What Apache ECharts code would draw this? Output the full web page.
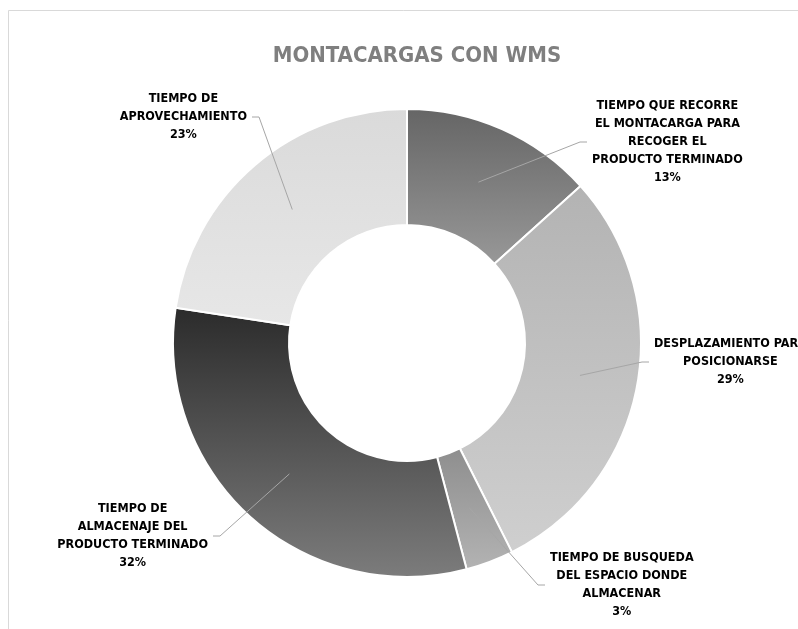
<!DOCTYPE html>
<html lang="es">
<head>
<meta charset="utf-8">
<title>MONTACARGAS CON WMS</title>
<script src="https://cdn.jsdelivr.net/npm/echarts@6/dist/echarts.min.js"></script>
</head>
<body style="margin:0;background:#fff">
<div id="container" style="width:798px;height:629px"></div>
<script type="text/javascript">
var categories = [
  'TIEMPO QUE RECORRE\nEL MONTACARGA PARA\nRECOGER EL\nPRODUCTO TERMINADO',
  'DESPLAZAMIENTO PARA\nPOSICIONARSE',
  'TIEMPO DE BUSQUEDA\nDEL ESPACIO DONDE\nALMACENAR',
  'TIEMPO DE\nALMACENAJE DEL\nPRODUCTO TERMINADO',
  'TIEMPO DE\nAPROVECHAMIENTO'
];
var values = [13.3, 29.3, 3.3, 31.5, 22.6];
var gradTop = ['#656565', '#b3b3b3', '#8e8e8e', '#2b2b2b', '#dadada'];
var gradBottom = ['#989898', '#cfcfcf', '#b3b3b3', '#7c7c7c', '#e7e7e7'];
// end of each leader line and the side its label sits on
var labelEnds = [[587, 142, 'left'], [649, 362, 'left'], [545, 585, 'left'], [213, 536, 'right'], [252, 117, 'right']];

var font = "'DejaVu Sans Condensed', 'Liberation Sans Narrow', sans-serif";
var center = [407, 343];
var radius = [118, 234];
var lineR = (radius[0] + radius[1]) / 2;

var total = values.reduce(function (a, b) { return a + b; }, 0);

// leader lines start in the middle of the ring, at the slice's mid angle
function midPoint(i) {
  var cum = 0;
  for (var k = 0; k < i; k++) cum += values[k];
  var ang = (90 - (cum + values[i] / 2) / total * 360) * Math.PI / 180;
  return [center[0] + lineR * Math.cos(ang), center[1] - lineR * Math.sin(ang)];
}

var dom = document.getElementById('container');
var myChart = echarts.init(dom);

var ringData = values.map(function (v, i) {
  return {
    name: categories[i],
    value: v,
    itemStyle: {
      color: {
        type: 'linear', x: 0, y: 0, x2: 0, y2: 1,
        colorStops: [
          { offset: 0, color: gradTop[i] },
          { offset: 1, color: gradBottom[i] }
        ]
      }
    }
  };
});

var labelData = values.map(function (v, i) {
  return { name: categories[i], value: v };
});

var option = {
  backgroundColor: '#ffffff',
  animation: false,
  graphic: [{
    type: 'rect',
    left: 6, top: 8,
    shape: { width: 840, height: 660 },
    style: { fill: 'none', stroke: '#d9d9d9', lineWidth: 1 },
    silent: true
  }],
  title: {
    text: 'MONTACARGAS CON WMS',
    left: 412,
    textAlign: 'center',
    top: 40,
    textStyle: { fontSize: 22, fontWeight: 'bold', color: '#7f7f7f', fontFamily: font }
  },
  series: [{
    type: 'pie',
    center: center,
    radius: radius,
    startAngle: 90,
    clockwise: true,
    itemStyle: { borderColor: '#ffffff', borderWidth: 2 },
    label: { show: false },
    labelLine: { show: false },
    emphasis: { disabled: true },
    data: ringData
  }, {
    // same slices, transparent, only to carry labels and leader lines above the ring
    type: 'pie',
    z: 5,
    silent: true,
    center: center,
    radius: radius,
    startAngle: 90,
    clockwise: true,
    avoidLabelOverlap: false,
    itemStyle: { color: 'rgba(0,0,0,0)', borderWidth: 0 },
    label: {
      show: true,
      position: 'outside',
      formatter: function (p) {
        var lines = p.name.split('\n');
        lines.push(Math.round(p.percent) + '%');
        return lines.map(function (t) { return '{c|' + t + '}'; }).join('\n');
      },
      rich: {
        c: { align: 'center', fontSize: 12.5, fontWeight: 'bold', lineHeight: 18, color: '#000000', fontFamily: font }
      }
    },
    labelLine: {
      show: true,
      lineStyle: { color: '#a6a6a6', width: 1 }
    },
    labelLayout: function (params) {
      var i = params.dataIndex;
      var e = labelEnds[i];
      var left = e[2] === 'left';
      return {
        x: left ? e[0] + 5 : e[0] - 5,
        y: e[1],
        align: e[2],
        verticalAlign: 'middle',
        labelLinePoints: [midPoint(i), [left ? e[0] - 7 : e[0] + 7, e[1]], [e[0], e[1]]]
      };
    },
    emphasis: { disabled: true },
    data: labelData
  }]
};

myChart.setOption(option);
</script>
</body>
</html>
